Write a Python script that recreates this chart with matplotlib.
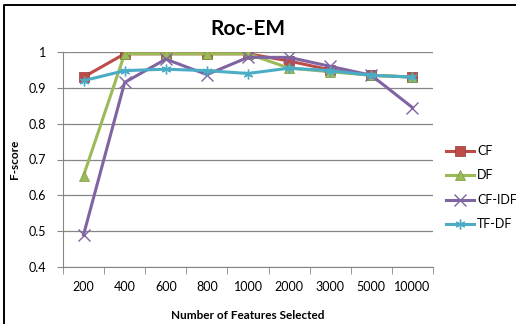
import matplotlib
matplotlib.use("Agg")
import matplotlib.pyplot as plt
from matplotlib.lines import Line2D

categories = ["200", "400", "600", "800", "1000", "2000", "3000", "5000", "10000"]
cf = [0.93, 0.995, 0.995, 0.995, 0.995, 0.975, 0.95, 0.935, 0.93]
df = [0.655, 0.995, 0.995, 0.995, 0.995, 0.955, 0.945, 0.935, 0.93]
cf_idf = [0.49, 0.915, 0.98, 0.937, 0.985, 0.985, 0.96, 0.935, 0.845]
tf_df = [0.92, 0.948, 0.952, 0.948, 0.94, 0.955, 0.948, 0.935, 0.93]
series = [("CF", cf, "#BE4B48", "s"), ("DF", df, "#9BBB59", "^"),
          ("CF-IDF", cf_idf, "#8064A2", "x"), ("TF-DF", tf_df, "#4BACC6", (6, 2, 0))]
yticks = [0.4, 0.5, 0.6, 0.7, 0.8, 0.9, 1.0]
ylabels = ["0.4", "0.5", "0.6", "0.7", "0.8", "0.9", "1"]

plt.rcParams['font.family'] = ['Lato', 'DejaVu Sans']
fig = plt.figure(figsize=(5.16, 3.24), dpi=100)
# partial frame (top and left edges) as in the screenshot
fig.lines.append(Line2D([4/516, 4/516, 1.0], [0.0, 1 - 5/324, 1 - 5/324],
                        transform=fig.transFigure, color='black', linewidth=1.4))
ax = fig.add_axes([63/516, 1 - 267/324, 370/516, 215/324])
x = list(range(len(categories)))
for name, vals, color, marker in series:
    ax.plot(x, vals, color=color, marker=marker, markersize=7 if marker != "x" else 8,
            linewidth=2.2, label=name, markeredgewidth=1.0 if marker in ("x", (6, 2, 0)) else 0.5,
            markeredgecolor=color if marker in ("x", (6, 2, 0)) else "#8a3a38" if name == "CF" else "#7a9a40")
ax.set_xlim(-0.5, len(categories) - 0.5)
ax.set_ylim(0.4, 1.0)
ax.set_yticks(yticks)
ax.set_yticklabels(ylabels, fontsize=9)
ax.set_xticks(x)
ax.set_xticklabels(categories, fontsize=9)
ax.tick_params(axis='x', length=0, pad=10)
ax.set_xticks([i - 0.5 for i in range(len(categories) + 1)], minor=True)
ax.tick_params(axis='x', which='minor', length=5, color='#868686', direction='out')
ax.tick_params(axis='y', length=4, color='#868686', pad=8)
ax.grid(axis='y', color='#868686', linewidth=0.9)
ax.set_axisbelow(True)
for s in ['top', 'right']:
    ax.spines[s].set_visible(False)
for s in ['left', 'bottom']:
    ax.spines[s].set_color('#868686')
ax.set_title("Roc-EM", fontsize=15, fontweight='bold', pad=12)
ax.set_xlabel("Number of Features Selected", fontsize=8.5, fontweight='bold', labelpad=12)
ax.set_ylabel("F-score", fontsize=8.5, fontweight='bold', labelpad=6)
ax.legend(loc='upper left', bbox_to_anchor=(1.005, 0.62), frameon=False, fontsize=9,
          handlelength=2.2, labelspacing=1.0, handletextpad=0.3)
fig.savefig("out.png", dpi=100)
